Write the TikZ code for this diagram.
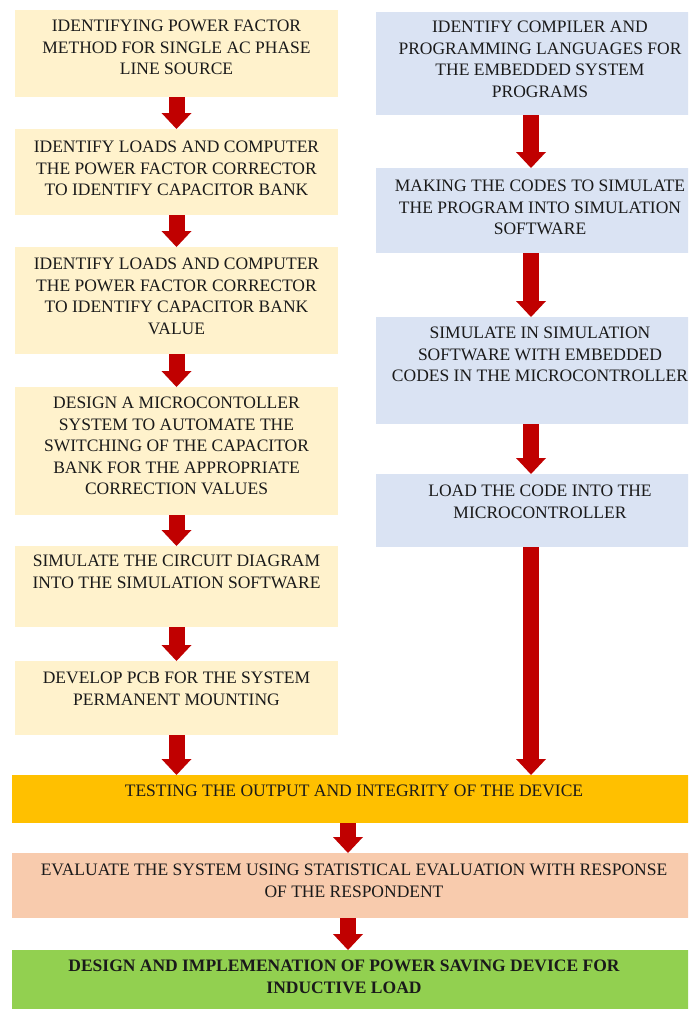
\documentclass[tikz,border=0pt]{standalone}
\usepackage{fontspec}
\setmainfont{Liberation Serif}
\newfontfamily\tnr{Liberation Serif}
\usetikzlibrary{arrows.meta,calc}
\definecolor{lfill}{HTML}{FFF2CC}
\definecolor{rfill}{HTML}{DAE3F3}
\definecolor{tfill}{HTML}{FFC000}
\definecolor{efill}{HTML}{F8CBAD}
\definecolor{gfill}{HTML}{92D050}
\definecolor{arrc}{HTML}{C00000}
\definecolor{txtc}{HTML}{1A1A1A}
\begin{document}
\begin{tikzpicture}[x=1pt,y=-1pt,
  box/.style={anchor=north west, inner sep=0pt, outer sep=0pt, draw=none},
  lbox/.style={box, fill=lfill, minimum width=323pt},
  rbox/.style={box, fill=rfill, minimum width=328pt},
  wbox/.style={box, minimum width=684pt},
  txt/.style={anchor=north, inner sep=0pt, align=center, text=txtc,
    font=\tnr\fontsize{17.5}{21.5}\selectfont},
  arr/.style={draw=arrc, line width=16pt,
    -{Triangle[width=30pt,length=16pt,line width=0pt]}}]
\clip (0,0) rectangle (688,1009);
\fill[white] (0,0) rectangle (688,1009);
% left column
\node[lbox, minimum height=87pt] (l1) at (15,10) {};
\node[lbox, minimum height=86pt] (l2) at (15,129) {};
\node[lbox, minimum height=107pt] (l3) at (15,247) {};
\node[lbox, minimum height=128pt] (l4) at (15,387) {};
\node[lbox, minimum height=81pt] (l5) at (15,546) {};
\node[lbox, minimum height=74pt] (l6) at (15,661) {};
% right column
\node[rbox, minimum height=103pt] (r1) at (376,12) {};
\node[rbox, minimum height=85pt] (r2) at (376,168) {};
\node[rbox, minimum height=107pt] (r3) at (376,317) {};
\node[rbox, minimum height=73pt] (r4) at (376,474) {};
% bottom
\node[wbox, fill=tfill, minimum height=48pt] (t) at (12,775) {};
\node[wbox, fill=efill, minimum height=65pt] (e) at (12,853) {};
\node[wbox, fill=gfill, minimum height=60pt] (g) at (12,950) {};
% texts
\node[txt] (l1t) at ($(l1.north)+(0,10)$) {IDENTIFYING POWER FACTOR\\METHOD FOR SINGLE AC PHASE\\LINE SOURCE};
\node[txt] (l2t) at ($(l2.north)+(0,12)$) {IDENTIFY LOADS AND COMPUTER\\THE POWER FACTOR CORRECTOR\\TO IDENTIFY CAPACITOR BANK};
\node[txt] (l3t) at ($(l3.north)+(0,11)$) {IDENTIFY LOADS AND COMPUTER\\THE POWER FACTOR CORRECTOR\\TO IDENTIFY CAPACITOR BANK\\VALUE};
\node[txt] (l4t) at ($(l4.north)+(0,10)$) {DESIGN A MICROCONTOLLER\\SYSTEM TO AUTOMATE THE\\SWITCHING OF THE CAPACITOR\\BANK FOR THE APPROPRIATE\\CORRECTION VALUES};
\node[txt] (l5t) at ($(l5.north)+(0,9)$) {SIMULATE THE CIRCUIT DIAGRAM\\INTO THE SIMULATION SOFTWARE};
\node[txt] (l6t) at ($(l6.north)+(0,11)$) {DEVELOP PCB FOR THE SYSTEM\\PERMANENT MOUNTING};
\node[txt] (r1t) at ($(r1.north)+(0,9)$) {IDENTIFY COMPILER AND\\PROGRAMMING LANGUAGES FOR\\THE EMBEDDED SYSTEM\\PROGRAMS};
\node[txt] (r2t) at ($(r2.north)+(0,12)$) {MAKING THE CODES TO SIMULATE\\THE PROGRAM INTO SIMULATION\\SOFTWARE};
\node[txt] (r3t) at ($(r3.north)+(0,10)$) {SIMULATE IN SIMULATION\\SOFTWARE WITH EMBEDDED\\CODES IN THE MICROCONTROLLER};
\node[txt] (r4t) at ($(r4.north)+(0,11)$) {LOAD THE CODE INTO THE\\MICROCONTROLLER};
\node[txt] (tt) at ($(t.north)+(0,10)$) {TESTING THE OUTPUT AND INTEGRITY OF THE DEVICE};
\node[txt] (et) at ($(e.north)+(0,11)$) {EVALUATE THE SYSTEM USING STATISTICAL EVALUATION WITH RESPONSE\\OF THE RESPONDENT};
\node[txt, font=\tnr\fontsize{17.5}{21.5}\selectfont\bfseries] (gt) at ($(g.north)+(-10,10)$) {DESIGN AND IMPLEMENATION OF POWER SAVING DEVICE FOR\\INDUCTIVE LOAD};
% arrows
\coordinate (rx) at (531,0);
\coordinate (cx) at (348,0);
\draw[arr] (l1.south) -- (l2.north);
\draw[arr] (l2.south) -- (l3.north);
\draw[arr] (l3.south) -- (l4.north);
\draw[arr] (l4.south) -- (l5.north);
\draw[arr] (l5.south) -- (l6.north);
\draw[arr] (l6.south) -- (t.north -| l6.south);
\draw[arr] (r1.south -| rx) -- (r2.north -| rx);
\draw[arr] (r2.south -| rx) -- (r3.north -| rx);
\draw[arr] (r3.south -| rx) -- (r4.north -| rx);
\draw[arr] (r4.south -| rx) -- (t.north -| rx);
\draw[arr] (t.south -| cx) -- (e.north -| cx);
\draw[arr] (e.south -| cx) -- (g.north -| cx);
\end{tikzpicture}
\end{document}
